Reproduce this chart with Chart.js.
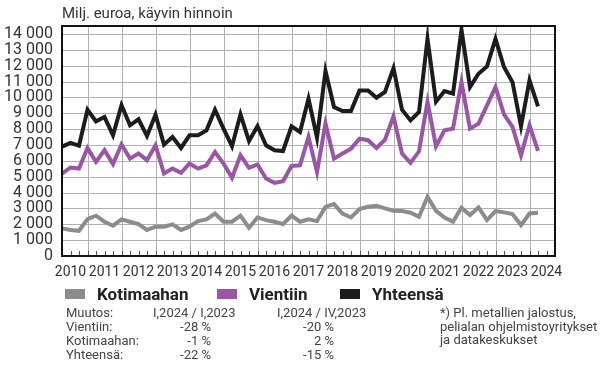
<!DOCTYPE html>
<html lang="fi">
<head>
<meta charset="UTF-8">
<title>Milj. euroa, käyvin hinnoin</title>
<script src="https://cdn.jsdelivr.net/npm/chart.js"></script>
<style>
  body { margin: 0; background: #fff; font-family: Roboto, sans-serif; }
  .wrap { position: relative; width: 605px; height: 365px; }
  canvas { position: absolute; left: 0; top: 0; }
  .t { position: absolute; white-space: nowrap; }
  .title { left: 62px; top: 4px; font-size: 15px; color: #333; }
  .lg { top: 284px; font-size: 17px; font-weight: bold; color: #222; line-height: 20px; }
  .sw { position: absolute; top: 289px; width: 20px; height: 10px; }
  .tb { font-size: 13px; color: #444; line-height: 14px; }
  .r { text-align: right; }
</style>
</head>
<body>
<div class="wrap">
  <canvas id="grafico" width="605" height="365"></canvas>
  <div class="t title">Milj. euroa, käyvin hinnoin</div>

  <div class="sw" style="left:65px;background:#8c8c8c"></div>
  <div class="t lg" style="left:97px">Kotimaahan</div>
  <div class="sw" style="left:217px;background:#9b55a6"></div>
  <div class="t lg" style="left:249px">Vientiin</div>
  <div class="sw" style="left:340px;background:#1c1c1c"></div>
  <div class="t lg" style="left:372px">Yhteensä</div>

  <div class="t tb" style="left:66px;top:306px">Muutos:</div>
  <div class="t tb" style="left:66px;top:320px">Vientiin:</div>
  <div class="t tb" style="left:66px;top:334px">Kotimaahan:</div>
  <div class="t tb" style="left:66px;top:348px">Yhteensä:</div>

  <div class="t tb" style="left:153px;top:306px">I,2024 / I,2023</div>
  <div class="t tb r" style="right:394px;top:320px">-28 %</div>
  <div class="t tb r" style="right:394px;top:334px">-1 %</div>
  <div class="t tb r" style="right:394px;top:348px">-22 %</div>

  <div class="t tb" style="left:277px;top:306px">I,2024 / IV,2023</div>
  <div class="t tb r" style="right:271px;top:320px">-20 %</div>
  <div class="t tb r" style="right:271px;top:334px">2 %</div>
  <div class="t tb r" style="right:271px;top:348px">-15 %</div>

  <div class="t tb" style="left:440px;top:306px">*) Pl. metallien jalostus,</div>
  <div class="t tb" style="left:440px;top:320px">pelialan ohjelmistoyritykset</div>
  <div class="t tb" style="left:440px;top:333px">ja datakeskukset</div>
</div>

<script>
// vuosineljännekset 2010 I ... 2024 III (akseli jatkuu kaksi neljännestä yli datan)
const vuodet = [2010, 2011, 2012, 2013, 2014, 2015, 2016, 2017, 2018, 2019, 2020, 2021, 2022, 2023, 2024];
const neljannekset = ["I", "II", "III", "IV"];
const kvartaalit = [];
vuodet.forEach(v => neljannekset.forEach(q => kvartaalit.push(q + "," + v)));
kvartaalit.length = 59;

// milj. euroa, 2010 I - 2024 I
const kotimaahan = [
  1740, 1640, 1590, 2330, 2540, 2160, 1910, 2310, 2160, 2010, 1640, 1850, 1850, 1990, 1640,
  1850, 2200, 2310, 2680, 2160, 2160, 2540, 1780, 2430, 2260, 2160, 2010, 2540, 2160, 2310,
  2200, 3100, 3270, 2680, 2430, 2960, 3100, 3170, 3000, 2850, 2830, 2730, 2470, 3730,
  2850, 2430, 2160, 3040, 2580, 3060, 2260, 2830, 2750, 2640, 1950, 2680, 2730
];
const vientiin = [
  5200, 5580, 5510, 6810, 5930, 6670, 5790, 7040, 6140, 6460, 6040, 6980, 5200, 5510, 5240,
  5830, 5510, 5720, 6560, 5830, 4930, 6350, 5560, 5770, 4880, 4610, 4720, 5680, 5720, 7510,
  5300, 8350, 6140, 6460, 6770, 7400, 7300, 6810, 7340, 8810, 6460, 5870, 6600, 9710,
  6920, 7920, 8030, 10960, 8030, 8340, 9500, 10650, 8930, 8140, 6350, 8240, 6620
];
const yhteensa = [
  6900, 7130, 6960, 9220, 8490, 8760, 7610, 9500, 8240, 8620, 7570, 8910, 7020, 7500, 6810,
  7610, 7610, 7920, 9220, 8030, 6920, 8930, 7250, 8180, 6980, 6670, 6620, 8180, 7820, 9920,
  7460, 11660, 9390, 9140, 9140, 10440, 10440, 9980, 10340, 11840, 9220, 8550, 9080, 13690,
  9730, 10400, 10230, 14260, 10650, 11490, 11950, 13690, 11910, 10960, 8180, 11070, 9430
];
const yTicks = [0, 1000, 2000, 3000, 4000, 5000, 6000, 7000, 8000, 9000, 10000, 11000, 12000, 13000, 14000];

// ruudukko täytettyinä suorakaiteina (vaaka joka tuhannelle, pysty IV neljännekselle)
const ruudukko = {
  id: 'ruudukko',
  beforeDatasetsDraw(chart) {
    const { ctx, chartArea: a, scales } = chart;
    ctx.save();
    ctx.globalAlpha = 1;
    ctx.globalCompositeOperation = 'source-over';
    ctx.fillStyle = '#b0b0b0';
    yTicks.forEach(v => {
      const y = Math.round(scales.y.getPixelForValue(v));
      ctx.fillRect(a.left, y, a.right - a.left, 1);
    });
    for (let i = 3; i < kvartaalit.length; i += 4) {
      const x = Math.round(scales.x.getPixelForValue(i));
      ctx.fillRect(x, a.top, 1, a.bottom - a.top);
    }
    ctx.restore();
  },
  afterDraw(chart) {
    const { ctx, chartArea: a, scales } = chart;
    const l = Math.round(a.left), r = Math.round(a.right);
    const t = Math.round(a.top), b = Math.round(a.bottom);
    ctx.save();
    ctx.globalAlpha = 1;
    ctx.globalCompositeOperation = 'source-over';
    ctx.fillStyle = '#555';
    for (let i = 1; i < kvartaalit.length; i++) {
      const x = Math.round(scales.x.getPixelForValue(i));
      ctx.fillRect(x, b - 5, 1, 5);
    }
    ctx.fillStyle = '#111';
    ctx.fillRect(l - 1, t - 1, r - l + 2, 2);
    ctx.fillRect(l - 1, b - 1, r - l + 2, 2);
    ctx.fillRect(l - 1, t - 1, 2, b - t + 2);
    ctx.fillRect(r - 1, t - 1, 2, b - t + 2);
    ctx.restore();
  }
};

function sarja(label, data, color) {
  return {
    label: label,
    data: data,
    borderColor: color,
    backgroundColor: color,
    borderWidth: 4,
    pointRadius: 0
  };
}

new Chart(document.getElementById("grafico"), {
  type: 'line',
  data: {
    labels: kvartaalit,
    datasets: [
      sarja('Kotimaahan', kotimaahan, '#8c8c8c'),
      sarja('Vientiin', vientiin, '#9b55a6'),
      sarja('Yhteensä', yhteensa, '#1c1c1c')
    ]
  },
  options: {
    responsive: false,
    animation: false,
    layout: { padding: { top: 26, right: 50, bottom: 85, left: 0 } },
    plugins: { legend: { display: false }, tooltip: { enabled: false } },
    scales: {
      x: {
        border: { display: false },
        grid: { display: false, drawTicks: false },
        ticks: {
          autoSkip: false,
          maxRotation: 0,
          padding: 8,
          color: '#333',
          font: { family: 'Roboto', size: 14 },
          callback: (v, i) => (i % 4 === 1 ? String(vuodet[(i - 1) / 4]) : '')
        },
        afterFit: s => { s.height = 24; }
      },
      y: {
        min: 0,
        max: 14500,
        border: { display: false },
        grid: { display: false, drawTicks: false },
        afterBuildTicks: s => { s.ticks = yTicks.map(v => ({ value: v })); },
        ticks: {
          autoSkip: false,
          padding: 9,
          color: '#333',
          font: { family: 'Roboto', size: 16 },
          callback: v => v.toLocaleString('fi-FI').replace(/\s/g, ' ')
        },
        afterFit: s => { s.width = 62; }
      }
    }
  },
  plugins: [ruudukko]
});
</script>
</body>
</html>
